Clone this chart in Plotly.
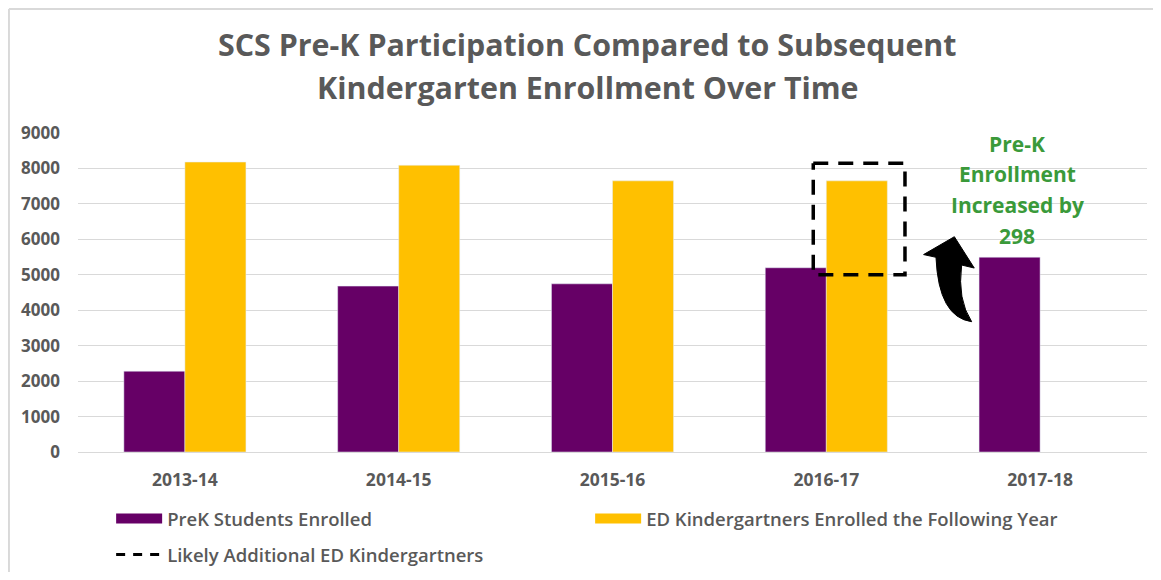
import plotly.graph_objects as go

# ---- data ----
years = ["2013-14", "2014-15", "2015-16", "2016-17", "2017-18"]
prek_enrolled = [2280, 4680, 4745, 5198, 5496]
ed_kinder_following = [8180, 8090, 7650, 7650, None]
y_ticks = [0, 1000, 2000, 3000, 4000, 5000, 6000, 7000, 8000, 9000]
# likely additional ED kindergartners (dashed box) value range for 2016-17
likely_low = 5000
likely_high = 8150
increase_text = ["Pre-K", "Enrollment", "Increased by", "298"]

PURPLE = "#660066"
YELLOW = "#FFC000"
GRAY = "#595959"
GREEN = "#3A9A3A"
FONT = "Open Sans"

xpos = list(range(len(years)))

fig = go.Figure()
fig.add_trace(go.Bar(x=xpos, y=prek_enrolled, marker_color=PURPLE, name="PreK Students Enrolled",
                     showlegend=False))
fig.add_trace(go.Bar(x=xpos, y=ed_kinder_following, marker_color=YELLOW,
                     name="ED Kindergartners Enrolled the Following Year", showlegend=False))

# dashed box around the 2016-17 kindergarten bar
bx0, bx1 = 3 - 0.061, 3 + 0.368
fig.add_trace(go.Scatter(x=[bx0, bx1, bx1, bx0, bx0],
                         y=[likely_high, likely_high, likely_low, likely_low, likely_high],
                         mode="lines", line=dict(color="black", width=3.5, dash="15px,10px"),
                         showlegend=False, hoverinfo="skip"))

# legend entries
fig.add_trace(go.Scatter(x=[None], y=[None], mode="lines", line=dict(color=PURPLE, width=11),
                         name="PreK Students Enrolled", legend="legend"))
fig.add_trace(go.Scatter(x=[None], y=[None], mode="lines", line=dict(color=YELLOW, width=11),
                         name="ED Kindergartners Enrolled the Following Year", legend="legend"))
fig.add_trace(go.Scatter(x=[None], y=[None], mode="lines", line=dict(color="black", width=3, dash="9px,8px"),
                         name="Likely Additional ED Kindergartners", legend="legend2"))

# curved arrow
arrow_path = ("M 3.599 6074 L 3.455 5570 L 3.513 5493 "
              "Q 3.525 3800 3.680 3676 "
              "Q 3.612 4300 3.633 5275 "
              "L 3.692 5190 Z")
fig.add_shape(type="path", path=arrow_path, xref="x", yref="y",
              fillcolor="black", line=dict(color="black", width=1))

# green text
line_y = [0.9655, 0.8715, 0.7743, 0.6771]
for t, yy in zip(increase_text, line_y):
    fig.add_annotation(text=t, x=3.892, xref="x", y=yy, yref="paper", showarrow=False,
                       xanchor="center", yanchor="middle",
                       font=dict(family=FONT, size=21, color=GREEN, weight="bold"))

# title (two lines)
for t, yy in zip(["SCS Pre-K Participation Compared to Subsequent",
                  "Kindergarten Enrollment Over Time"], [1.2759, 1.1411]):
    fig.add_annotation(text=t, x=0.477, xref="paper", y=yy, yref="paper", showarrow=False,
                       xanchor="center", yanchor="middle",
                       font=dict(family=FONT, size=30.4, color=GRAY, weight="bold"))

# outer border (top & left)
fig.add_shape(type="line", xref="paper", yref="paper", x0=-0.0646, x1=1.1, y0=1.3887, y1=1.3887,
              line=dict(color="#D9D9D9", width=2))
fig.add_shape(type="line", xref="paper", yref="paper", x0=-0.0646, x1=-0.0646, y0=1.3887, y1=-0.5,
              line=dict(color="#D9D9D9", width=2))

fig.update_layout(
    width=1145, height=564,
    margin=dict(l=70, r=6, t=125, b=120),
    paper_bgcolor="white", plot_bgcolor="white",
    barmode="group", bargap=0.429, bargroupgap=0,
    font=dict(family=FONT, color=GRAY),
    xaxis=dict(range=[-0.5, 4.5], tickvals=xpos, ticktext=years, showgrid=False, zeroline=False,
               showline=False, ticks="", ticklabelstandoff=15,
               tickfont=dict(family=FONT, size=17.5, color=GRAY, weight="bold")),
    yaxis=dict(range=[0, 9000], tickvals=y_ticks, showgrid=True, gridcolor="#D9D9D9", gridwidth=1.3,
               zeroline=True, zerolinecolor="#D9D9D9", zerolinewidth=1.3, showline=False, ticks="",
               ticklabelstandoff=17,
               tickfont=dict(family=FONT, size=17, color=GRAY, weight="bold")),
    legend=dict(orientation="h", x=0.031, xanchor="left", y=0.094, yref="container", yanchor="middle",
                entrywidth=418, entrywidthmode="pixels", itemwidth=46,
                font=dict(family=FONT, size=18.5, color=GRAY, weight=600), bgcolor="rgba(0,0,0,0)"),
    legend2=dict(orientation="h", x=0.031, xanchor="left", y=0.030, yref="container", yanchor="middle",
                 itemwidth=46,
                 font=dict(family=FONT, size=18.5, color=GRAY, weight=600), bgcolor="rgba(0,0,0,0)"),
    showlegend=True,
)

fig.write_html("out.html")
